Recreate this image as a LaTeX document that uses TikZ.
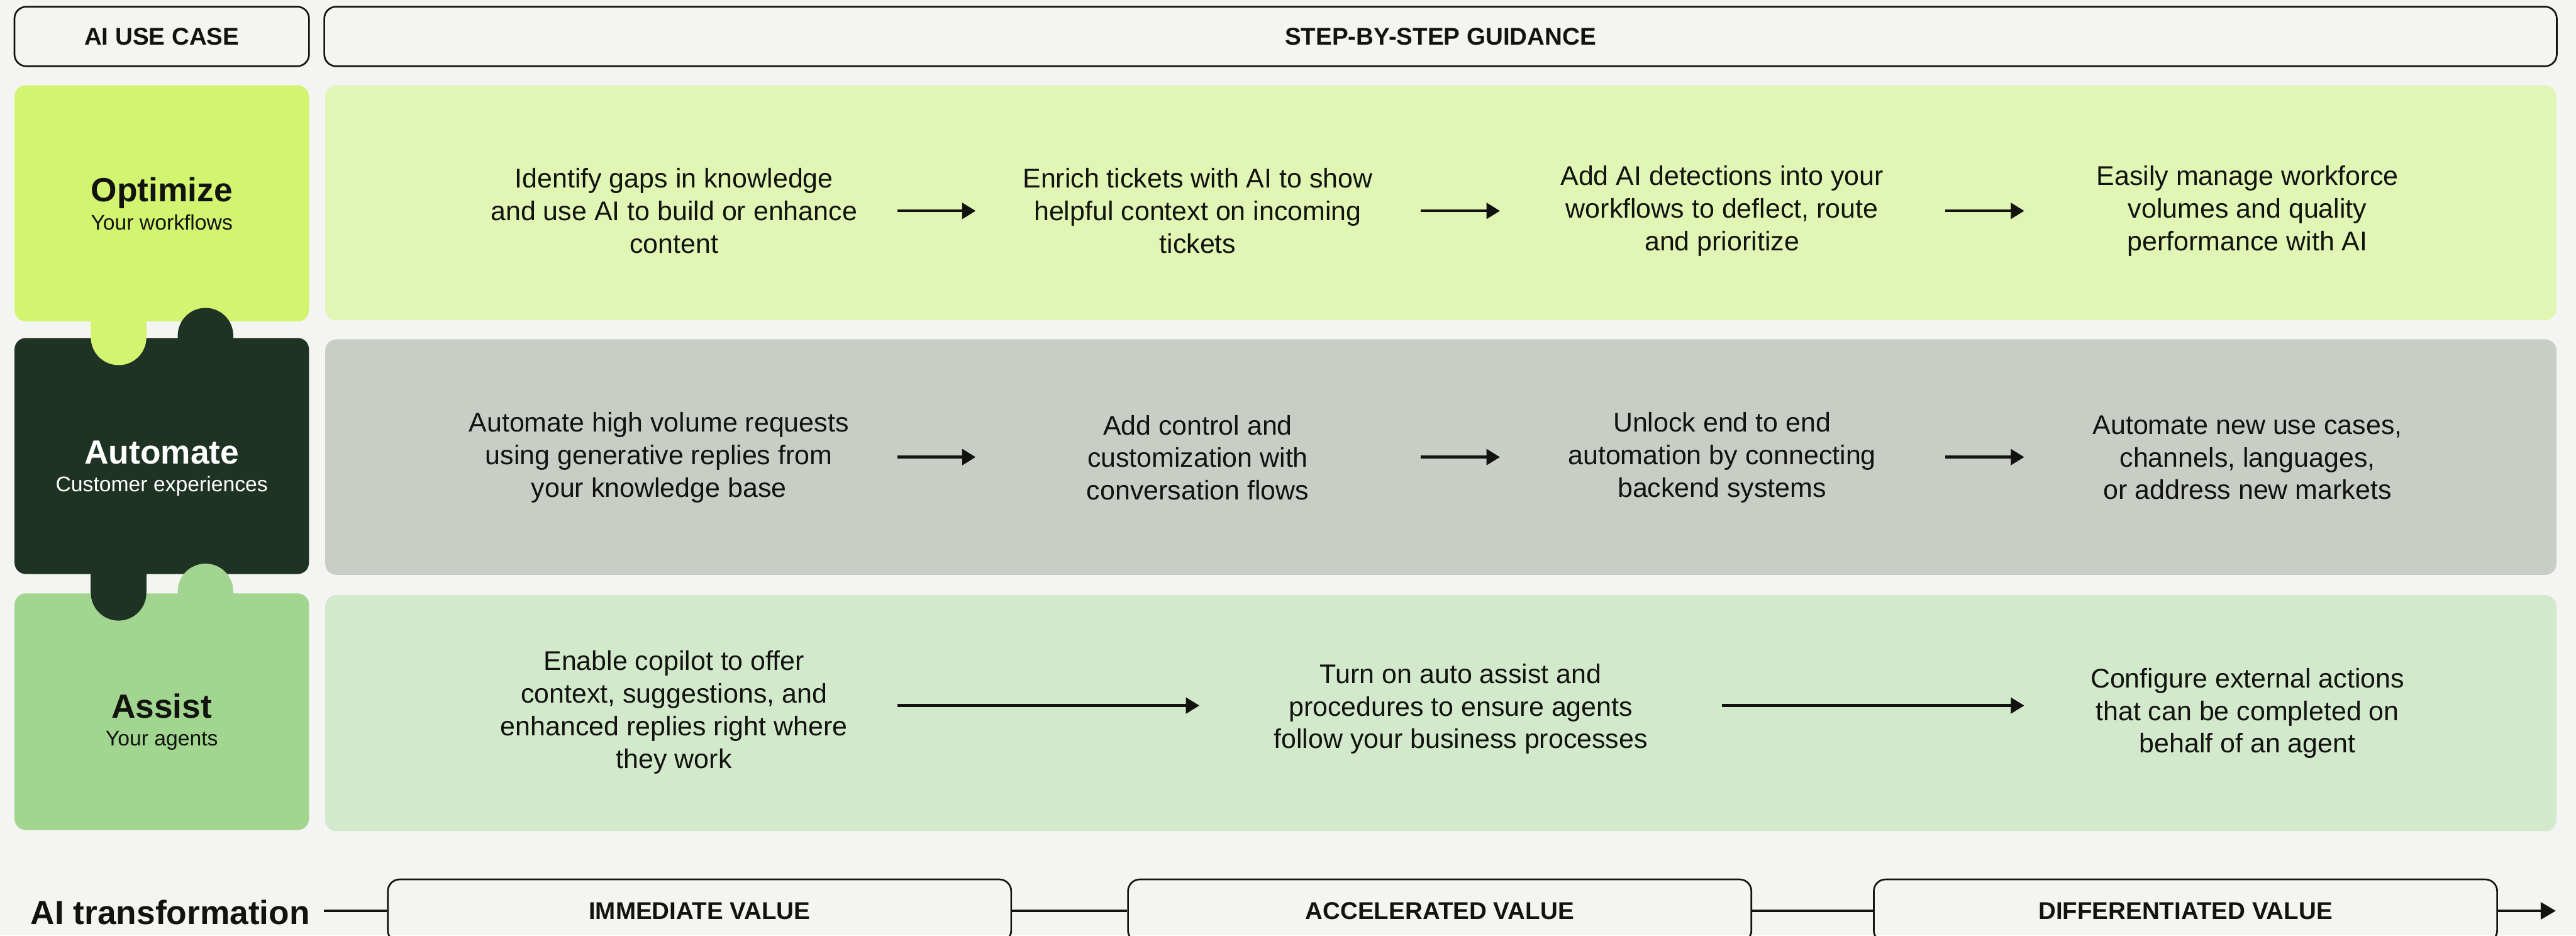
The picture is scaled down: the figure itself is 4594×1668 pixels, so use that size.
\documentclass[tikz,border=0pt]{standalone}
\usepackage{fontspec}
\setmainfont{Liberation Sans}
\usetikzlibrary{arrows.meta}
\definecolor{bg}{HTML}{F4F4F2}
\definecolor{ink}{HTML}{12130F}
\definecolor{lime}{HTML}{D2F470}
\definecolor{limel}{HTML}{E1F5B4}
\definecolor{dkgreen}{HTML}{1F3325}
\definecolor{graybox}{HTML}{C8CDC6}
\definecolor{assistg}{HTML}{A2D690}
\definecolor{assistl}{HTML}{D2E9CC}
\tikzset{
  hdr/.style={draw=ink, line width=0.85pt, rounded corners=0.21cm, inner sep=0pt,
    font=\fontsize{12.3}{14}\selectfont\bfseries, text=ink},
  steptxt/.style={align=center, font=\fontsize{13.7}{16.5}\selectfont, text=ink, inner sep=0pt},
  ttl/.style={anchor=base, font=\fontsize{17}{20}\selectfont\bfseries, inner sep=0pt},
  subttl/.style={anchor=base, font=\fontsize{10.75}{13}\selectfont, inner sep=0pt},
  arr/.style={-{Triangle[length=0.24cm,width=0.28cm]}, line width=1.4pt, draw=ink},
  tline/.style={line width=1.5pt, draw=ink},
  tarr/.style={-{Triangle[length=0.27cm,width=0.30cm]}, line width=1.5pt, draw=ink},
  rounded/.style={rounded corners=0.2cm},
}
\begin{document}
\begin{tikzpicture}[x=0.01cm,y=-0.01cm]
\useasboundingbox (0,0) rectangle (4594,1668);
\clip (0,0) rectangle (4594,1668);
\fill[bg] (0,0) rectangle (4594,1668);

% headers
\node[hdr, minimum width=5.25cm, minimum height=1.06cm] (huse) at (288.5,65) {AI USE CASE};
\node[hdr, minimum width=39.79cm, minimum height=1.06cm] (hstep) at (2569,65) {STEP-BY-STEP GUIDANCE};

% row boxes
\fill[lime, rounded] (26,152) rectangle (551,573);
\fill[limel, rounded] (580,152) rectangle (4559,571);
\fill[dkgreen, rounded] (26,602.6) rectangle (551,1023.5);
\fill[graybox, rounded] (580,605) rectangle (4559,1025);
\fill[assistg, rounded] (26,1058) rectangle (551,1480);
\fill[assistl, rounded] (580,1061) rectangle (4559,1482);

% puzzle knobs
\fill[lime] (162,560) rectangle (261,601.5);
\fill[lime] (211.5,601.5) circle[radius=0.495cm];
\fill[dkgreen] (317,598.5) rectangle (416,615);
\fill[dkgreen] (366.5,598.5) circle[radius=0.495cm];
\fill[dkgreen] (162,1015) rectangle (261,1057);
\fill[dkgreen] (211.5,1057) circle[radius=0.495cm];
\fill[assistg] (317,1054.5) rectangle (416,1070);
\fill[assistg] (366.5,1054.5) circle[radius=0.495cm];

% use case labels
\node[ttl, text=ink] (optT) at (288.5,360) {Optimize};
\node[subttl, text=ink] (optS) at (288.5,410) {Your workflows};
\node[ttl, text=white] (autT) at (288.5,827) {Automate};
\node[subttl, text=white] (autS) at (288.5,877) {Customer experiences};
\node[ttl, text=ink] (asT) at (288.5,1280) {Assist};
\node[subttl, text=ink] (asS) at (288.5,1330) {Your agents};

% row 1
\node[steptxt] (o1) at (1202,376) {Identify gaps in knowledge\\and use AI to build or enhance\\content};
\node[steptxt] (o2) at (2136,376) {Enrich tickets with AI to show\\helpful context on incoming\\tickets};
\node[steptxt] (o3) at (3071,376) {Add AI detections into your\\workflows to deflect, route\\and prioritize};
\node[steptxt] (o4) at (4008,376) {Easily manage workforce\\volumes and quality\\performance with AI};
\coordinate (o1a) at (1600,376); \coordinate (o1b) at (1740,376);
\coordinate (o2a) at (2534,376); \coordinate (o2b) at (2675,376);
\coordinate (o3a) at (3469,376); \coordinate (o3b) at (3610,376);
\draw[arr] (o1a) -- (o1b);
\draw[arr] (o2a) -- (o2b);
\draw[arr] (o3a) -- (o3b);

% row 2
\node[steptxt] (a1) at (1175,816) {Automate high volume requests\\using generative replies from\\your knowledge base};
\node[steptxt] (a2) at (2136,816) {Add control and\\customization with\\conversation flows};
\node[steptxt] (a3) at (3071,816) {Unlock end to end\\automation by connecting\\backend systems};
\node[steptxt] (a4) at (4008,816) {Automate new use cases,\\channels, languages,\\or address new markets};
\coordinate (a1a) at (1600,815); \coordinate (a1b) at (1740,815);
\coordinate (a2a) at (2534,815); \coordinate (a2b) at (2675,815);
\coordinate (a3a) at (3469,815); \coordinate (a3b) at (3610,815);
\draw[arr] (a1a) -- (a1b);
\draw[arr] (a2a) -- (a2b);
\draw[arr] (a3a) -- (a3b);

% row 3
\node[steptxt] (s1) at (1202,1270) {Enable copilot to offer\\context, suggestions, and\\enhanced replies right where\\they work};
\node[steptxt] (s2) at (2605,1264) {Turn on auto assist and\\procedures to ensure agents\\follow your business processes};
\node[steptxt] (s3) at (4008,1272) {Configure external actions\\that can be completed on\\behalf of an agent};
\coordinate (s1a) at (1600,1258); \coordinate (s1b) at (2139,1258);
\coordinate (s2a) at (3071,1258); \coordinate (s2b) at (3610,1258);
\draw[arr] (s1a) -- (s1b);
\draw[arr] (s2a) -- (s2b);

% AI transformation timeline
\node[anchor=base west, inner sep=0pt, font=\fontsize{17}{20}\selectfont\bfseries, text=ink] (aitr) at (54,1648) {AI transformation};
\coordinate (tstart) at (578,1624);
\coordinate (tend) at (4558,1624);
\node[hdr, minimum width=11.11cm, minimum height=1.12cm] (iv) at (1247.5,1624) {IMMEDIATE VALUE};
\node[hdr, minimum width=11.11cm, minimum height=1.12cm] (av) at (2567.5,1624) {ACCELERATED VALUE};
\node[hdr, minimum width=11.11cm, minimum height=1.12cm] (dv) at (3897.5,1624) {DIFFERENTIATED VALUE};
\draw[tline] (tstart) -- (iv.west);
\draw[tline] (iv.east) -- (av.west);
\draw[tline] (av.east) -- (dv.west);
\draw[tarr] (dv.east) -- (tend);
\end{tikzpicture}
\end{document}
